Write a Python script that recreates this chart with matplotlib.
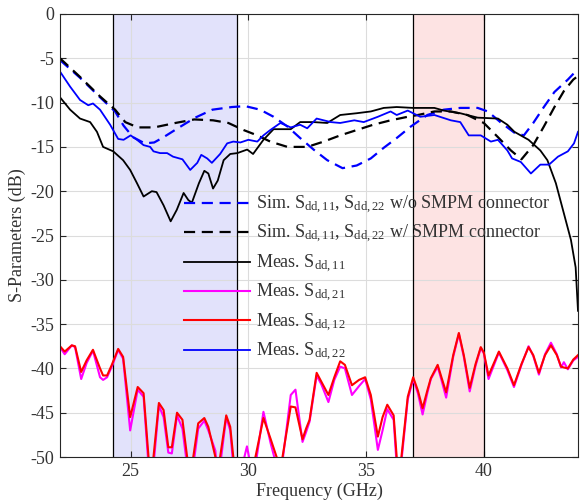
import matplotlib
matplotlib.use("Agg")
import matplotlib.pyplot as plt

plt.rcParams['font.family'] = ['Liberation Serif', 'DejaVu Serif']
plt.rcParams['mathtext.fontset'] = 'custom'
plt.rcParams['mathtext.rm'] = 'Liberation Serif'
plt.rcParams['mathtext.it'] = 'Liberation Serif:italic'
plt.rcParams['axes.unicode_minus'] = False

# ---------------- data ----------------
# Meas. Sdd,11 (black solid)
f_m11 = [22, 22.43, 22.85, 23.28, 23.57, 23.83, 24.26, 24.68, 24.98, 25.27, 25.55, 25.9, 26.1,
         26.4, 26.7, 26.96, 27.25, 27.45, 27.6, 27.9, 28.13, 28.3, 28.5, 28.7, 28.95, 29.23,
         29.53, 29.95, 30.2, 30.64, 31.07, 31.8, 32.2, 32.77, 33.35, 33.9, 34.6, 35.2, 35.75,
         36.3, 37.0, 37.9, 38.3, 39.0, 39.74, 40.6, 41.0, 41.3, 41.9, 42.4, 42.7, 43.06, 43.4,
         43.7, 43.9, 44.0]
s_m11 = [-9.4, -10.8, -11.8, -12.2, -13.3, -15.0, -15.5, -16.5, -17.6, -19.1, -20.6, -20.0, -20.1,
         -21.6, -23.4, -22.1, -20.2, -21.0, -21.3, -19.1, -17.7, -18.0, -19.7, -18.8, -16.5, -15.8,
         -15.7, -15.3, -15.8, -14.2, -13.0, -13.0, -12.2, -12.2, -12.3, -11.4, -11.2, -11.0, -10.6,
         -10.5, -10.6, -10.6, -10.9, -11.2, -11.7, -11.8, -12.5, -13.3, -14.2, -15.4, -16.5, -19.1,
         -22.5, -25.5, -28.6, -33.5]

# Meas. Sdd,22 (blue solid)
f_m22 = [22, 22.43, 22.85, 23.2, 23.4, 23.7, 24.13, 24.47, 24.7, 25.0, 25.27, 25.55, 25.83, 25.97,
         26.25, 26.55, 26.8, 27.2, 27.53, 27.83, 28.0, 28.25, 28.45, 28.8, 29.1, 29.36, 29.66, 30.0,
         30.38, 30.64, 30.93, 31.36, 31.8, 32.2, 32.5, 32.9, 33.5, 33.9, 34.5, 34.9, 35.5, 36.04,
         36.3, 36.77, 37.3, 37.9, 38.6, 39.0, 39.36, 39.87, 40.3, 40.6, 41.0, 41.2, 41.57, 42.0,
         42.4, 42.77, 43.15, 43.57, 43.83, 44.0]
s_m22 = [-6.5, -8.2, -9.7, -10.3, -10.1, -10.8, -12.5, -14.1, -14.2, -13.7, -14.2, -14.8, -15.0, -15.5,
         -15.7, -15.7, -16.1, -16.4, -17.6, -16.8, -15.9, -16.3, -16.8, -15.8, -14.6, -14.4, -14.5, -14.2,
         -14.4, -13.7, -13.1, -12.3, -12.8, -12.5, -12.9, -11.8, -12.2, -12.3, -12.0, -12.2, -11.6, -11.0,
         -11.4, -10.9, -11.6, -11.4, -12.0, -12.2, -13.7, -13.7, -14.4, -14.2, -15.4, -16.3, -16.7, -18.0,
         -17.0, -17.0, -16.1, -15.5, -14.6, -13.3]

# Sim. w/o SMPM connector (blue dashed)
f_sim_wo = [22, 22.85, 23.7, 24.34, 24.7, 25.1, 25.6, 26.0, 26.4, 27.0, 27.74, 28.47, 29.3, 29.87,
            30.5, 31.07, 31.66, 32.2, 32.77, 33.35, 34.0, 34.6, 35.2, 35.75, 36.3, 36.9, 37.6, 38.3,
            39.0, 39.74, 40.17, 40.7, 41.3, 41.7, 42.1, 42.55, 43.0, 43.57, 44.0]
s_sim_wo = [-5.2, -7.2, -9.4, -11.0, -12.6, -13.9, -14.6, -14.5, -13.9, -12.9, -11.7, -10.8, -10.5, -10.4,
            -10.8, -11.6, -12.7, -14.0, -15.3, -16.5, -17.4, -17.1, -16.3, -15.1, -14.0, -12.7, -11.4, -10.8,
            -10.6, -10.6, -11.0, -12.2, -13.4, -13.7, -12.3, -10.5, -8.8, -7.4, -6.2]

# Sim. w/ SMPM connector (black dashed)
f_sim_w = [22, 22.85, 23.7, 24.34, 24.77, 25.3, 26.0, 26.9, 27.7, 28.5, 29.15, 29.8, 30.38, 30.93,
           31.66, 32.5, 33.2, 33.9, 34.6, 35.3, 36.04, 36.77, 37.2, 37.9, 38.6, 39.3, 40.0, 40.6,
           41.15, 41.6, 42.1, 42.55, 43.0, 43.4, 43.8, 44.0]
s_sim_w = [-5.0, -7.1, -9.3, -10.8, -12.2, -12.8, -12.8, -12.3, -11.9, -12.0, -12.3, -13.1, -13.7, -14.4,
           -15.0, -15.0, -14.4, -13.7, -13.1, -12.5, -12.0, -11.6, -11.4, -11.0, -11.0, -11.4, -12.3, -13.9,
           -15.4, -16.4, -14.8, -12.7, -10.5, -8.7, -7.4, -7.0]

# Meas. Sdd,12 (red) and Sdd,21 (magenta)
f_m12 = [22, 22.2, 22.5, 22.64, 22.9, 23.13, 23.4, 23.7, 23.83, 24.0, 24.2, 24.47, 24.68, 24.98,
         25.3, 25.55, 25.76, 25.87, 25.97, 26.2, 26.4, 26.6, 26.75, 26.97, 27.2, 27.4, 27.53, 27.66,
         27.87, 28.13, 28.3, 28.6, 28.7, 28.8, 29.06, 29.23, 29.36, 29.55, 29.74, 29.94, 30.1, 30.3,
         30.64, 30.95, 31.2, 31.33, 31.45, 31.8, 32.0, 32.3, 32.45, 32.6, 32.9, 33.1, 33.4, 33.65,
         33.9, 34.1, 34.4, 34.7, 34.96, 35.2, 35.5, 35.7, 35.9, 36.17, 36.3, 36.4, 36.5, 36.77,
         37.0, 37.2, 37.4, 37.6, 37.75, 38.04, 38.2, 38.4, 38.7, 38.94, 39.15, 39.4, 39.65, 39.87,
         40.0, 40.2, 40.64, 41.0, 41.28, 41.6, 41.9, 42.1, 42.34, 42.6, 42.85, 43.1, 43.28, 43.4,
         43.57, 43.8, 44.0]
s_m12 = [-37.5, -38.1, -37.4, -37.5, -40.4, -39.1, -37.9, -40.0, -40.8, -40.8, -39.6, -37.8, -38.7, -45.5,
         -42.1, -42.8, -50.0, -53.0, -50.0, -43.9, -44.7, -48.9, -48.9, -45.0, -45.8, -50.0, -53.0, -50.0,
         -46.2, -45.6, -46.6, -50.0, -53.0, -50.0, -45.3, -46.6, -50.0, -54.0, -50.1, -52.0, -53.0, -50.0,
         -45.6, -48.0, -50.0, -52.0, -50.0, -44.3, -44.4, -48.0, -46.8, -45.8, -40.5, -41.5, -43.0, -41.0,
         -39.2, -39.6, -41.9, -41.3, -41.0, -43.0, -47.7, -45.5, -44.1, -45.3, -50.0, -53.0, -50.0, -43.2,
         -41.0, -42.5, -44.5, -42.5, -41.1, -39.6, -41.0, -42.7, -38.5, -36.0, -38.5, -42.2, -39.5, -37.6,
         -38.2, -40.8, -38.1, -40.0, -41.9, -39.5, -37.6, -38.5, -40.5, -38.5, -37.4, -38.5, -39.8, -39.9,
         -40.0, -39.0, -38.5]
s_m21 = [-37.6, -38.4, -37.4, -37.6, -41.2, -39.4, -38.0, -41.0, -41.3, -41.0, -39.8, -37.9, -38.9, -47.0,
         -42.4, -43.2, -51.0, -54.0, -51.0, -44.2, -45.5, -49.5, -49.6, -45.3, -46.8, -51.0, -54.0, -51.0,
         -46.8, -45.9, -47.0, -49.3, -53.0, -51.0, -45.5, -47.0, -51.0, -55.0, -51.0, -48.8, -51.0, -51.0,
         -44.9, -48.5, -51.0, -53.0, -50.5, -43.0, -42.4, -48.3, -47.2, -46.0, -40.8, -41.8, -43.8, -41.3,
         -39.8, -40.0, -43.0, -42.0, -41.2, -43.5, -49.2, -47.0, -44.6, -45.8, -51.0, -54.0, -50.5, -43.5,
         -41.2, -42.8, -45.2, -42.8, -41.2, -39.8, -41.3, -43.3, -38.7, -36.1, -38.7, -42.6, -39.7, -37.7,
         -38.3, -41.2, -38.2, -40.2, -42.1, -39.6, -37.5, -38.6, -40.7, -38.4, -37.1, -38.4, -39.9, -39.3,
         -40.1, -39.1, -38.7]

band_blue = (24.25, 29.5)
band_red = (37.0, 40.0)

labels = [r'Sim. S$_{\rm dd,11}$, S$_{\rm dd,22}$ w/o SMPM connector',
          r'Sim. S$_{\rm dd,11}$, S$_{\rm dd,22}$ w/ SMPM connector',
          r'Meas. S$_{\rm dd,11}$',
          r'Meas. S$_{\rm dd,21}$',
          r'Meas. S$_{\rm dd,12}$',
          r'Meas. S$_{\rm dd,22}$']

# ---------------- figure ----------------
FS = 13
fig = plt.figure(figsize=(5.83, 5.04), dpi=100)
ax = fig.add_axes([60/583, 1-457/504, 518/583, 443/504])

ax.axvspan(*band_blue, color='#e2e2fb', zorder=0.5, lw=0)
ax.axvspan(*band_red, color='#fde3e3', zorder=0.5, lw=0)
for xv in list(band_blue) + list(band_red):
    ax.axvline(xv, color='black', lw=0.9, zorder=1.6)

dash = (5, 3)
l1, = ax.plot(f_sim_wo, s_sim_wo, color='#0000ff', lw=1.6, dashes=dash, zorder=3)
l2, = ax.plot(f_sim_w, s_sim_w, color='black', lw=1.6, dashes=dash, zorder=3)
l3, = ax.plot(f_m11, s_m11, color='black', lw=1.3, zorder=3)
l4, = ax.plot(f_m12, s_m21, color='#ff00ff', lw=1.5, zorder=3)
l5, = ax.plot(f_m12, s_m12, color='#ff0000', lw=1.5, zorder=3)
l6, = ax.plot(f_m22, s_m22, color='#0000ff', lw=1.3, zorder=3)

ax.set_xlim(22, 44)
ax.set_ylim(-50, 0)
ax.set_xticks([25, 30, 35, 40])
ax.set_yticks(range(-50, 1, 5))
ax.grid(True, color='#dcdcdc', lw=0.8)
ax.tick_params(direction='in', top=True, right=True, length=4, width=0.8,
               labelsize=FS, colors='#262626', labelcolor='#333333', pad=4)
for sp in ax.spines.values():
    sp.set_color('#262626')
    sp.set_linewidth(0.8)
    sp.set_zorder(4)

ax.set_xlabel('Frequency (GHz)', fontsize=FS, color='#333333', labelpad=2)
ax.set_ylabel('S-Parameters (dB)', fontsize=FS, color='#333333', labelpad=3)

leg = ax.legend([l1, l2, l3, l4, l5, l6], labels, loc='upper left',
                bbox_to_anchor=((184-60)/518, 1-(194-14)/443), frameon=False,
                fontsize=FS, handlelength=3.67, handletextpad=0.33,
                labelspacing=0.40, borderpad=0, borderaxespad=0)
for t in leg.get_texts():
    t.set_color('#333333')

fig.savefig('out.png', dpi=100)
